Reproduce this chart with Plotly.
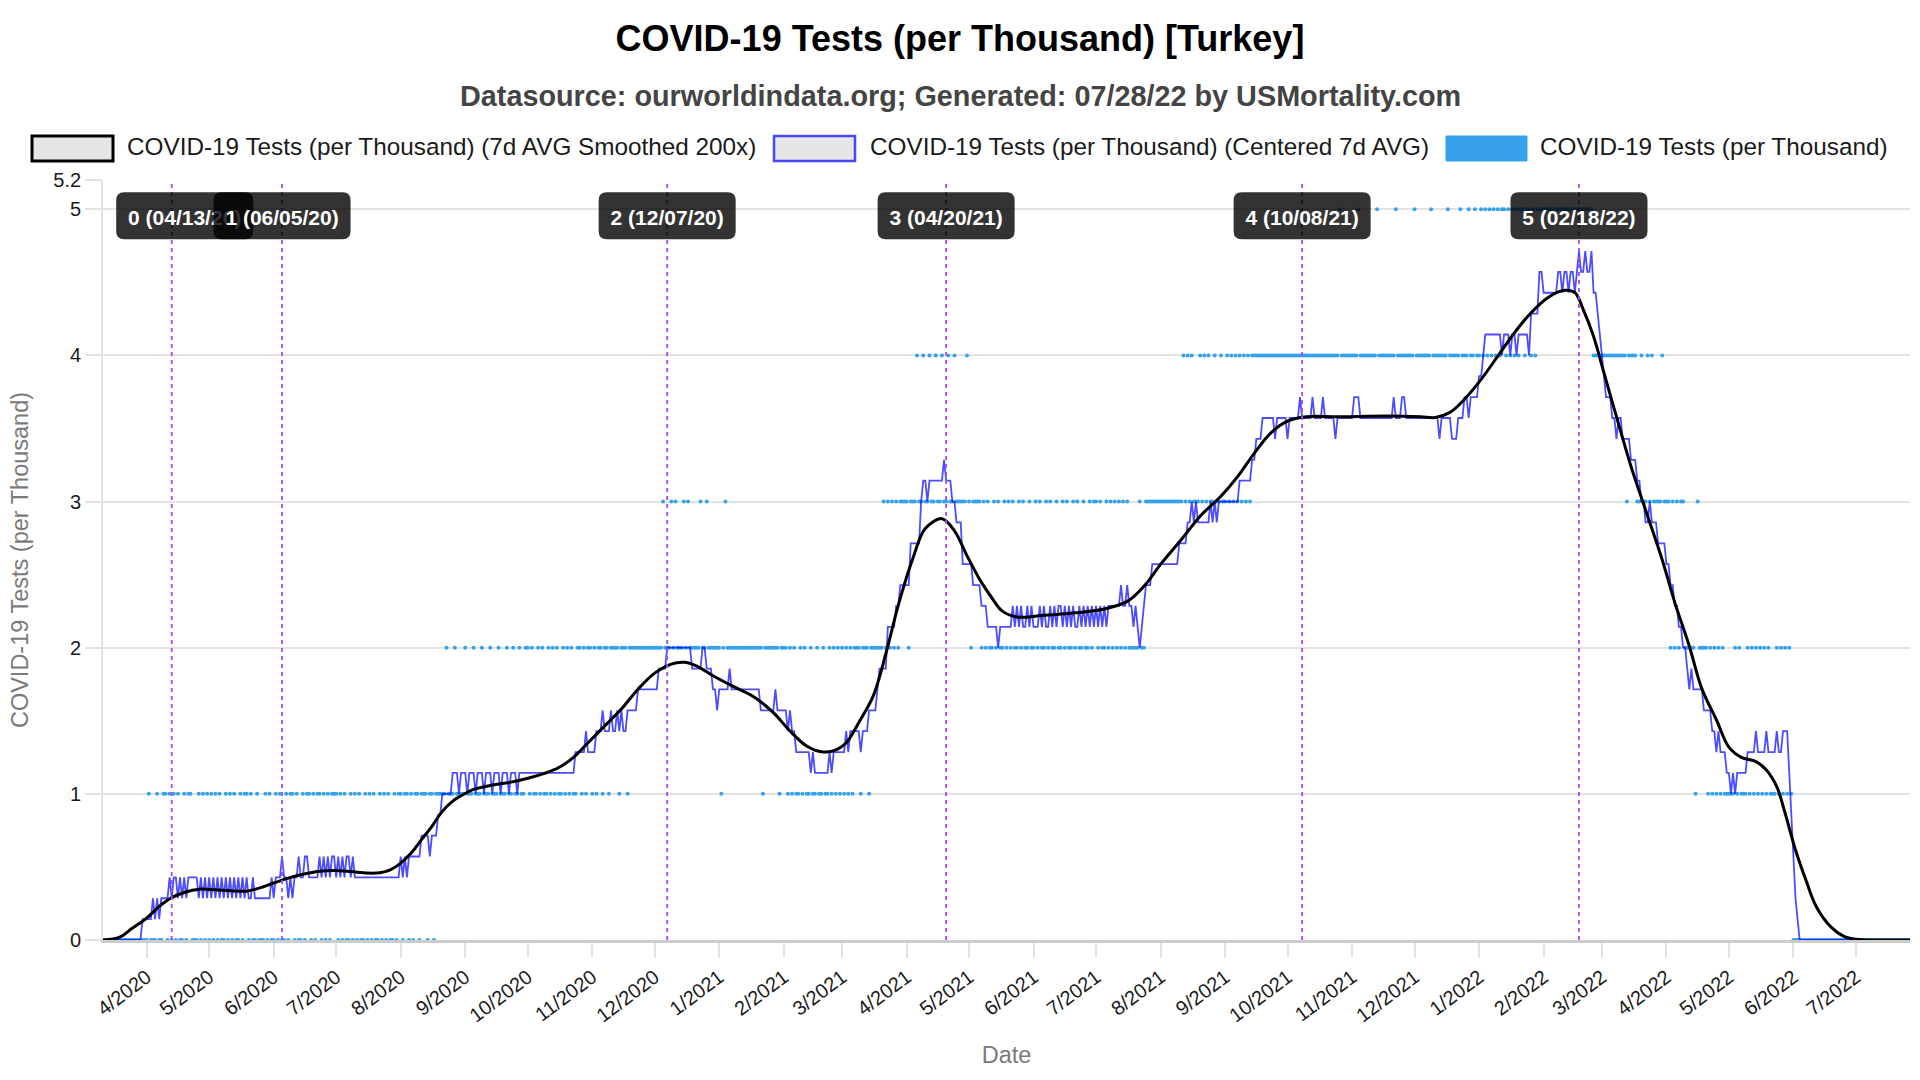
"""
COVID-19 tests per thousand for Turkey, redrawn with plotly.

Three series share one date axis: the daily values (small dots), a centered
7 day average (thin blue line) and a heavily smoothed curve (thick black
line).  Six dated events get a dashed purple marker and a dark label.
The legend is drawn by hand (shapes + annotations) so the swatches look
like the boxed swatches of the original.
"""

import pandas as pd
import plotly.graph_objects as go

FONT = "Liberation Sans, Arial, Helvetica, sans-serif"

RAW_BLUE = "#36a2eb"
AVG_BLUE = "rgba(0,0,255,0.7)"
EVENT_PURPLE = "#a24bf2"
GRID = "#e3e3e3"
AXIS_TITLE = "#7a7a7a"

START_DATE = "2020-03-11"
END_DATE = "2022-07-27"

# --- daily values: one digit per day, one string per month --------------
# (spaces only group the days by ten; March 2020 starts on the 11th,
#  July 2022 ends on the 27th)
tests_2020 = [
    "0000000000 0000000000 0",             # Mar
    "0100010011 0101010010 1100010101",    # Apr
    "0101010010 1010010110 1001000101 0",  # May
    "0101001011 0100101101 0110101011",    # Jun
    "1010100101 0100101010 0101010010 1",  # Jul
    "1011010110 1110110111 1121112111 1",  # Aug
    "2111211121 1121112111 2112112112",    # Sep
    "2121121211 2121211212 1211221212 2",  # Oct
    "1212212212 2221222122 2222222222",    # Nov
    "2222322232 3222323222 22322322222",   # Dec
]
tests_2021 = [
    "2123222222 2222222222 2122222221 2",  # Jan
    "2212121121 2112112112 11212121",      # Feb
    "2121212221 2221222222 3232323233 3",  # Mar
    "3233343343 3433433433 4334333334",    # Apr
    "3233332323 2232322323 2322323223 2",  # May
    "2323223232 2322323223 2322322323",    # Jun
    "3232232323 2323232222 23223333333",   # Jul
    "3333333333 3434343334 34343343343",   # Aug
    "3434343434 3434444444 4444444444",    # Sep
    "4444444444 4444444444 44444544444",   # Oct
    "4445444444 4454444444 4544444444",    # Nov
    "5444444454 4444445444 44544454454",   # Dec
]
tests_2022 = [
    "4545454545 4554545454 55455454555",   # Jan
    "5555555555 5555555555 55554444",      # Feb
    "4444444444 4434444334 33434333343",   # Mar
    "3323232332 2222132222 1212121211",    # Apr
    "1112121112 1212121212 1112121212 1",  # May
    "0000000000 0000000000 0000000000",    # Jun
    "0000000000 0000000000 0000000",       # Jul
]

# --- centered 7d average, in sevenths, run-length per month --------------
# "8x3" = 8/7 for three days, a bare "7" = 7/7 for one day
avg7_2020 = [
    "0x19 1x2",                                              # Mar
    "1x3 2 1 2 1 2x4 3 2 3 3 2 3 2 3 2 3x5 2 3 2 3 2",       # Apr
    "3 2 3 2 3 2 3 2 3 2 3 2 3 2 3 2 3 2 3 2x2 3 2x8 3",     # May
    "2 3x3 4 3x2 2 3 2 3x2 4 3x2 4x2 3x5 4 3 4 3 4 3 4x2",   # Jun
    "3 4 3 4 3 4x2 3 4 3x22",                                # Jul
    "4 3 4 3 4x6 5x4 4 5x3 6x2 7x5 8x3 7 8x2",               # Aug
    "8 7 8x3 7 8x3 7 8x3 7 8x3 7 8x3 7 8x3 7 8x4",           # Sep
    "8x23 9x5 10 9x2",                                       # Oct
    "9x2 10x3 11 10x3 11 10x2 11 10 11 10x2 11x5 12x8",      # Nov
    "12x2 13x4 14x12 13x5 14x2 13x3 12x2 11",                # Dec
]
avg7_2021 = [
    "12x5 13 12x14 11x7 12 11x3",                                      # Jan
    "11x2 10 11 10x2 9x7 8 9 8x7 9 8 9x4",                             # Feb
    "9x2 10 9 10x5 9 10x3 11x4 12 13x4 15x4 16x2 17x3",                # Mar
    "17x2 19x5 21 22x2 21 22x7 23 22x3 21x2 20x3 18x3",                # Apr
    "18x2 17x4 16x3 15x5 14 15x6 16 15 16 15 16 15x2 16 15 16",        # May
    "15x3 16 15 16 15x2 16 15 16 15 16x2 15 16 15 16 15 16 15x2 16 15 16 15 16 15 16 15",  # Jun
    "16 15 16 15 16 15 16x6 17 16x2 17 16x2 15 16 15 14 15 16 17x3 18x4",  # Jul
    "18x9 19x4 20x2 21 20 21 20x6 21 20 21 20 21x3",                   # Aug
    "21x7 22x6 23x2 24x3 25x6 24 25x5",                                # Sep
    "24 25x5 26 25x5 26 25x4 26 25x5 24 25x7",                         # Oct
    "25 26x3 25x16 26 25x3 26x2 25x4",                                 # Nov
    "25x12 24 25x5 24x3 25x3 26x2 25 26x4",                            # Dec
]
avg7_2022 = [
    "27x2 28 29x8 28 29x3 28 29x2 28 29x5 28 30x4 32x2",               # Jan
    "31x7 32x2 31 32x2 31 32x2 31 32 33 32x2 33 32x2 33 31x2 30 29",   # Feb
    "28 27 26x3 25x2 24 25x2 24x4 23x3 22x2 21x2 20x2 21 20x3 19x4",   # Mar
    "18x2 17x2 16x2 15x2 14x2 13 12 13 12x5 11x4 10x2 9 10 9x3 8",     # Apr
    "8 7 8 7 8x5 9x4 10 9x4 10 9x4 10 9x2 10x3 8 6",                   # May
    "4 2 1 0x27",                                                      # Jun
    "0x27",                                                            # Jul
]

# --- smoothed curve, read off at roughly weekly points -------------------
smooth_dates = [
    "2020-03-11", "2020-03-19", "2020-03-25", "2020-04-01", "2020-04-07",
    "2020-04-13", "2020-04-19", "2020-04-26", "2020-05-04", "2020-05-12",
    "2020-05-19", "2020-05-25", "2020-06-01", "2020-06-08", "2020-06-14",
    "2020-06-22", "2020-06-30", "2020-07-08", "2020-07-16", "2020-07-22",
    "2020-07-27", "2020-08-01", "2020-08-06", "2020-08-11", "2020-08-16",
    "2020-08-21", "2020-08-26", "2020-08-31", "2020-09-05", "2020-09-13",
    "2020-09-23", "2020-10-02", "2020-10-09", "2020-10-16", "2020-10-23",
    "2020-10-30", "2020-11-07", "2020-11-15", "2020-11-23", "2020-12-01",
    "2020-12-09", "2020-12-15", "2020-12-21", "2020-12-29", "2021-01-07",
    "2021-01-17", "2021-01-27", "2021-02-04", "2021-02-12", "2021-02-19",
    "2021-02-25", "2021-03-03", "2021-03-09", "2021-03-16", "2021-03-22",
    "2021-03-28", "2021-04-04", "2021-04-10", "2021-04-18", "2021-04-24",
    "2021-04-30", "2021-05-06", "2021-05-12", "2021-05-17", "2021-05-24",
    "2021-06-05", "2021-06-20", "2021-07-05", "2021-07-16", "2021-07-24",
    "2021-08-01", "2021-08-11", "2021-08-20", "2021-08-30", "2021-09-07",
    "2021-09-15", "2021-09-23", "2021-10-01", "2021-10-10", "2021-10-25",
    "2021-11-18", "2021-12-04", "2021-12-11", "2021-12-18", "2021-12-25",
    "2022-01-02", "2022-01-10", "2022-01-18", "2022-01-26", "2022-02-03",
    "2022-02-11", "2022-02-16", "2022-02-20", "2022-02-25", "2022-03-02",
    "2022-03-07", "2022-03-15", "2022-03-23", "2022-03-30", "2022-04-05",
    "2022-04-12", "2022-04-18", "2022-04-25", "2022-05-01", "2022-05-07",
    "2022-05-14", "2022-05-19", "2022-05-24", "2022-05-28", "2022-06-02",
    "2022-06-07", "2022-06-12", "2022-06-19", "2022-06-25", "2022-07-01",
    "2022-07-14", "2022-07-27",
]
smooth_values = [
    0.0, 0.02, 0.08, 0.15, 0.23,
    0.29, 0.325, 0.348, 0.343, 0.336,
    0.334, 0.355, 0.39, 0.423, 0.446,
    0.469, 0.476, 0.469, 0.458, 0.46,
    0.48, 0.526, 0.595, 0.687, 0.778,
    0.88, 0.95, 0.995, 1.03, 1.057,
    1.08, 1.11, 1.14, 1.18, 1.25,
    1.35, 1.465, 1.58, 1.716, 1.826,
    1.888, 1.9, 1.876, 1.808, 1.74,
    1.67, 1.556, 1.43, 1.327, 1.288,
    1.295, 1.35, 1.487, 1.67, 1.957,
    2.29, 2.61, 2.815, 2.883, 2.8,
    2.63, 2.47, 2.34, 2.25, 2.21,
    2.22, 2.237, 2.265, 2.317, 2.42,
    2.57, 2.74, 2.9, 3.036, 3.17,
    3.33, 3.47, 3.55, 3.58, 3.58,
    3.585, 3.58, 3.575, 3.61, 3.7,
    3.836, 3.995, 4.155, 4.292, 4.395,
    4.445, 4.43, 4.315, 4.13, 3.88,
    3.63, 3.24, 2.9, 2.6, 2.31,
    2.01, 1.72, 1.507, 1.32, 1.25,
    1.22, 1.164, 1.05, 0.868, 0.616,
    0.41, 0.228, 0.09, 0.027, 0.005,
    0.0, 0.0,
]

# --- event markers --------------------------------------------------------
event_dates = ["2020-04-13", "2020-06-05", "2020-12-07",
               "2021-04-20", "2021-10-08", "2022-02-18"]
event_labels = ["0 (04/13/20)", "1 (06/05/20)", "2 (12/07/20)",
                "3 (04/20/21)", "4 (10/08/21)", "5 (02/18/22)"]

y_ticks = [0, 1, 2, 3, 4, 5, 5.2]
y_tick_labels = ["0", "1", "2", "3", "4", "5", "5.2"]

legend_labels = [
    "COVID-19 Tests (per Thousand) (7d AVG Smoothed 200x)",
    "COVID-19 Tests (per Thousand) (Centered 7d AVG)",
    "COVID-19 Tests (per Thousand)",
]

# layout bits (pixels, relative to the plot area's top-left corner)
event_box_shift = [13, 0, 0, 0, 0, 0]    # first label is pushed inside the chart
legend_box_x = [-71, 671, 1343]
legend_text_x = [22, 765, 1435]
legend_fill = ["#e6e6e6", "#e6e6e6", RAW_BLUE]
legend_edge = ["#000000", AVG_BLUE, RAW_BLUE]
legend_edge_width = [3, 2.5, 1]


def fit(vals, n):
    # pad / trim one month so a miscount cannot shift the following months
    return (vals + vals[-1:] * n)[:n]


def expand_digits(months, counts):
    out = []
    for s, n in zip(months, counts):
        out += fit([int(c) for c in s if c.isdigit()], n)
    return out


def expand_runs(months, counts):
    out = []
    for s, n in zip(months, counts):
        vals = []
        for tok in s.split():
            level, _, reps = tok.partition("x")
            vals += [int(level)] * int(reps or 1)
        out += fit(vals, n)
    return out


def rounded_box(cx, w, h, r):
    x0, x1, y0, y1 = cx - w / 2, cx + w / 2, -h / 2, h / 2
    return (f"M{x0 + r},{y0} L{x1 - r},{y0} Q{x1},{y0} {x1},{y0 + r} "
            f"L{x1},{y1 - r} Q{x1},{y1} {x1 - r},{y1} L{x0 + r},{y1} "
            f"Q{x0},{y1} {x0},{y1 - r} L{x0},{y0 + r} Q{x0},{y0} {x0 + r},{y0} Z")


days = pd.date_range(START_DATE, END_DATE, freq="D")
month_counts = days.to_period("M").value_counts().sort_index().tolist()

daily = expand_digits(tests_2020 + tests_2021 + tests_2022, month_counts)
avg7 = [v / 7 for v in expand_runs(avg7_2020 + avg7_2021 + avg7_2022, month_counts)]

fig = go.Figure()
fig.add_trace(go.Scatter(
    x=days, y=daily, mode="markers",
    marker={"size": 4, "color": RAW_BLUE},
    hoverinfo="skip", showlegend=False,
))
fig.add_trace(go.Scatter(
    x=days, y=avg7, mode="lines",
    line={"width": 1.8, "color": AVG_BLUE},
    hoverinfo="skip", showlegend=False,
))
fig.add_trace(go.Scatter(
    x=smooth_dates, y=smooth_values, mode="lines",
    line={"width": 3, "color": "#000000", "shape": "spline", "smoothing": 1},
    hoverinfo="skip", showlegend=False,
))

# dashed event lines, then the dark labels on top of them
for d in event_dates:
    fig.add_shape(
        type="line", xref="x", yref="paper", x0=d, x1=d, y0=0, y1=1,
        line={"color": EVENT_PURPLE, "width": 1.8, "dash": "4px,4px"},
        layer="above",
    )
for d, text, shift in zip(event_dates, event_labels, event_box_shift):
    fig.add_shape(
        type="path", xref="x", yref="y",
        xsizemode="pixel", ysizemode="pixel", xanchor=d, yanchor=4.955,
        path=rounded_box(shift, 137, 47, 8),
        fillcolor="rgba(0,0,0,0.8)", line={"width": 0},
        layer="above",
        label={"text": text, "textposition": "middle center",
               "font": {"family": FONT, "size": 21, "color": "#ffffff", "weight": "bold"}},
    )

# hand drawn legend above the plot
for bx, tx, label, fill, edge, ew in zip(legend_box_x, legend_text_x, legend_labels,
                                         legend_fill, legend_edge, legend_edge_width):
    fig.add_shape(
        type="rect", xref="paper", yref="paper",
        xsizemode="pixel", ysizemode="pixel", xanchor=0, yanchor=1,
        x0=bx, x1=bx + 81, y0=19, y1=44,
        fillcolor=fill, line={"color": edge, "width": ew},
    )
    fig.add_annotation(
        xref="paper", yref="paper", x=0, y=1, xshift=tx, yshift=34,
        xanchor="left", yanchor="middle", showarrow=False, text=label,
        font={"family": FONT, "size": 24.3, "color": "#1a1a1a"},
    )

fig.add_annotation(
    xref="paper", yref="paper", x=0.5, y=1, xshift=-46.5, yshift=84,
    xanchor="center", yanchor="middle", showarrow=False,
    text="Datasource: ourworldindata.org; Generated: 07/28/22 by USMortality.com",
    font={"family": FONT, "size": 28.8, "color": "#444444", "weight": "bold"},
)

fig.update_layout(
    width=1920, height=1080,
    margin={"l": 103, "r": 10, "t": 180, "b": 140, "autoexpand": False},
    paper_bgcolor="#ffffff", plot_bgcolor="#ffffff",
    font={"family": FONT, "color": "#1a1a1a"},
    title={
        "text": "COVID-19 Tests (per Thousand) [Turkey]",
        "x": 0.5, "xref": "container", "xanchor": "center",
        "y": 1 - 38.7 / 1080, "yref": "container", "yanchor": "middle",
        "font": {"family": FONT, "size": 36, "color": "#000000", "weight": "bold"},
    },
    xaxis={
        "type": "date", "range": [START_DATE, END_DATE],
        "tick0": "2020-04-01", "dtick": "M1", "tickformat": "%-m/%Y",
        "tickangle": -37, "tickfont": {"size": 20},
        "ticks": "outside", "ticklen": 15, "tickwidth": 1.7, "tickcolor": GRID,
        "showgrid": False, "zeroline": False,
        "showline": True, "linecolor": "#cccccc", "linewidth": 2.5,
        "layer": "below traces", "automargin": False,
        "title": {"text": "Date", "font": {"size": 23.5, "color": AXIS_TITLE}, "standoff": 22},
    },
    yaxis={
        "range": [0, 5.2], "tickvals": y_ticks, "ticktext": y_tick_labels,
        "tickfont": {"size": 20},
        "ticks": "outside", "ticklen": 16, "tickwidth": 1.5, "tickcolor": GRID,
        "showgrid": True, "gridcolor": GRID, "gridwidth": 1.5, "zeroline": False,
        "showline": True, "linecolor": GRID, "linewidth": 1.7,
        "layer": "below traces", "automargin": False,
        "title": {"text": "COVID-19 Tests (per Thousand)",
                  "font": {"size": 23.5, "color": AXIS_TITLE}, "standoff": 18},
    },
)

# the page's default 8px body margin would push the figure off its origin
fig.write_html(
    "out.html",
    config={"displayModeBar": False},
    post_script="document.body.style.margin = '0';",
)
